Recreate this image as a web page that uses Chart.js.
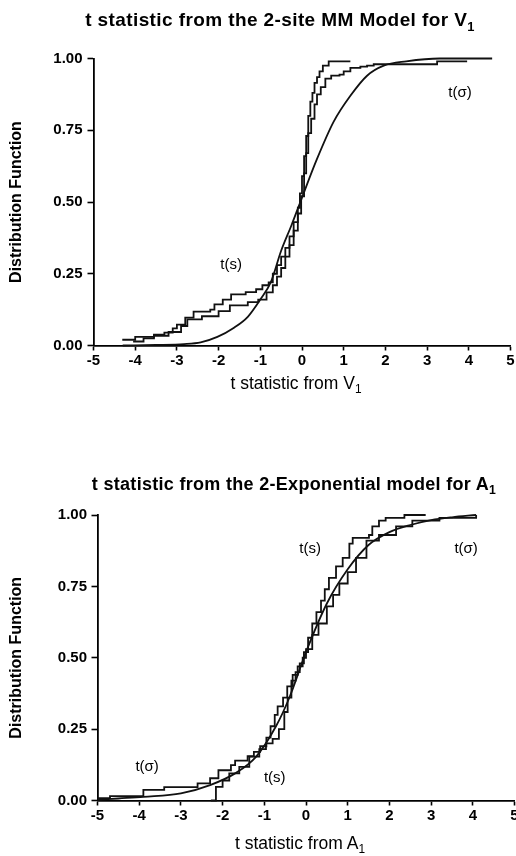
<!DOCTYPE html>
<html>
<head>
<meta charset="utf-8">
<script src="https://cdn.jsdelivr.net/npm/chart.js@4.4.1/dist/chart.umd.min.js"></script>
<style>
  html, body { margin: 0; padding: 0; background: #fff; overflow: hidden; }
  body { width: 516px; height: 856px; position: relative; font-family: "Liberation Sans", Arial, sans-serif; color: #000; }
  canvas { position: absolute; left: 0; }
  .title { position: absolute; white-space: nowrap; text-align: center; font-weight: bold; font-size: 19px; letter-spacing: 0.4px; line-height: 22px; }
  .xtitle { position: absolute; white-space: nowrap; text-align: center; font-size: 17.5px; line-height: 20px; }
  sub { font-size: 68%; vertical-align: -0.35em; line-height: 0; }
</style>
</head>
<body>
<canvas id="topChart" width="516" height="400" style="top:0"></canvas>
<canvas id="bottomChart" width="516" height="396" style="top:460px"></canvas>

<div class="title" style="left:60px;width:440px;top:9px">t statistic from the 2-site MM Model for V<sub>1</sub></div>
<div class="xtitle" style="left:186px;width:220px;top:373px">t statistic from V<sub>1</sub></div>
<div class="title" style="left:74px;width:440px;top:473px;font-size:18px;letter-spacing:0.3px">t statistic from the 2-Exponential model for A<sub>1</sub></div>
<div class="xtitle" style="left:190px;width:220px;top:833px">t statistic from A<sub>1</sub></div>

<script>
// tick values shared by both panels
const xTicks = [-5, -4, -3, -2, -1, 0, 1, 2, 3, 4, 5];
const yTicks = [0, 0.25, 0.5, 0.75, 1];

// panel 1: V1, points are [t, F]
const topSmooth = [[-4.3,0.0],[-3.5,0.002],[-2.83,0.005],[-2.43,0.011],[-2.03,0.03],[-1.63,0.062],[-1.3,0.10],
    [-1.0,0.16],[-0.75,0.22],[-0.5,0.33],[-0.25,0.42],[-0.04,0.5],[0.36,0.65],[0.76,0.78],[1.16,0.87],
    [1.56,0.94],[1.96,0.975],[2.5,0.99],[3.3,1.0],[4.56,1.0]];
const topTs = [[-4.31,0.02],[-4.0,0.03],[-3.55,0.038],[-3.3,0.045],[-3.1,0.06],[-3.0,0.073],[-2.8,0.097],
    [-2.6,0.118],[-2.2,0.125],[-2.1,0.143],[-1.9,0.16],[-1.7,0.178],[-1.35,0.186],[-1.1,0.196],[-0.95,0.21],
    [-0.8,0.22],[-0.7,0.25],[-0.6,0.28],[-0.5,0.31],[-0.4,0.34],[-0.3,0.38],[-0.2,0.43],[-0.1,0.48],
    [-0.05,0.53],[0.0,0.59],[0.05,0.66],[0.1,0.73],[0.15,0.8],[0.2,0.85],[0.25,0.88],[0.3,0.915],
    [0.36,0.935],[0.42,0.955],[0.5,0.975],[0.64,0.99],[1.16,0.99]];
const topTsigma = [[-4.05,0.014],[-3.8,0.025],[-3.55,0.034],[-3.2,0.047],[-2.9,0.068],[-2.75,0.091],
    [-2.4,0.102],[-2.0,0.12],[-1.73,0.14],[-1.3,0.151],[-1.05,0.16],[-0.85,0.185],[-0.7,0.21],[-0.6,0.24],
    [-0.5,0.27],[-0.4,0.31],[-0.3,0.35],[-0.2,0.4],[-0.1,0.46],[-0.02,0.52],[0.05,0.6],[0.1,0.67],
    [0.15,0.74],[0.22,0.79],[0.3,0.84],[0.36,0.875],[0.45,0.9],[0.56,0.93],[0.7,0.94],[0.9,0.944],
    [1.0,0.955],[1.16,0.967],[1.4,0.972],[1.56,0.975],[1.72,0.98],[3.24,0.99],[3.96,0.99]];
const topLabels = [
    { text: 't(s)', t: -1.70, f: 0.28 },
    { text: 't(\u03c3)', t: 3.79, f: 0.88 }
];

// panel 2: A1
const bottomSmooth = [[-5,0.002],[-4.5,0.007],[-3.9,0.013],[-3.0,0.025],[-2.3,0.054],[-1.7,0.095],
    [-1.2,0.153],[-0.72,0.26],[-0.4,0.36],[0,0.52],[0.5,0.69],[1.0,0.81],[1.5,0.895],[2.0,0.94],
    [2.5,0.965],[3.0,0.982],[3.5,0.992],[4.08,1.0]];
const bottomTs = [[-2.28,0.0],[-2.16,0.048],[-2.0,0.07],[-1.84,0.095],[-1.6,0.118],[-1.36,0.154],
    [-1.12,0.18],[-0.96,0.2],[-0.8,0.216],[-0.65,0.25],[-0.52,0.31],[-0.44,0.36],[-0.35,0.42],[-0.25,0.45],
    [-0.15,0.48],[-0.05,0.52],[0.05,0.57],[0.15,0.62],[0.25,0.66],[0.36,0.7],[0.45,0.74],[0.55,0.78],
    [0.72,0.82],[0.88,0.85],[1.04,0.9],[1.12,0.92],[1.51,0.93],[1.59,0.96],[1.75,0.98],[1.91,0.99],
    [2.36,1.0],[2.87,1.0]];
const bottomTsigma = [[-5,0.008],[-4.7,0.015],[-3.9,0.037],[-3.4,0.047],[-2.6,0.06],[-2.3,0.078],
    [-2.1,0.106],[-1.8,0.124],[-1.7,0.14],[-1.4,0.155],[-1.25,0.17],[-1.1,0.19],[-0.95,0.22],[-0.85,0.26],
    [-0.75,0.3],[-0.68,0.33],[-0.55,0.36],[-0.45,0.4],[-0.32,0.44],[-0.2,0.47],[-0.08,0.5],[0.0,0.53],
    [0.15,0.58],[0.3,0.62],[0.5,0.68],[0.65,0.72],[0.8,0.76],[1.0,0.8],[1.2,0.85],[1.45,0.91],
    [1.75,0.93],[2.16,0.96],[2.55,0.98],[3.2,0.99],[4.08,1.0]];
const bottomLabels = [
    { text: 't(s)', t: 0.10, f: 0.88 },
    { text: 't(\u03c3)', t: 3.84, f: 0.88 },
    { text: 't(\u03c3)', t: -3.81, f: 0.118 },
    { text: 't(s)', t: -0.75, f: 0.079 }
];

const fontFamily = '"Liberation Sans", Arial, sans-serif';

function toSet(points, stepped) {
    return {
        data: points.map(p => ({ x: p[0], y: p[1] })),
        stepped: stepped,
        cubicInterpolationMode: 'monotone',
        borderColor: '#111',
        borderWidth: 1.8,
        pointRadius: 0,
        fill: false,
        clip: false
    };
}

function makeChart(canvasId, sets, labels, box) {
    const ctx = document.getElementById(canvasId).getContext('2d');

    // writes the t(s) / t(sigma) tags at their data positions
    const labelPlugin = {
        id: 'curveLabels',
        afterDatasetsDraw(chart) {
            const c = chart.ctx;
            const { x, y } = chart.scales;
            c.save();
            c.font = '15px ' + fontFamily;
            c.fillStyle = '#000';
            c.textAlign = 'center';
            c.textBaseline = 'middle';
            labels.forEach(l => c.fillText(l.text, x.getPixelForValue(l.t), y.getPixelForValue(l.f)));
            c.restore();
        }
    };

    return new Chart(ctx, {
        type: 'line',
        data: { datasets: sets },
        options: {
            responsive: false,
            animation: false,
            events: [],
            layout: { padding: { top: box.top, right: box.right, left: 0, bottom: 0 } },
            plugins: { legend: { display: false }, tooltip: { enabled: false } },
            scales: {
                x: {
                    type: 'linear',
                    min: xTicks[0],
                    max: xTicks[xTicks.length - 1],
                    afterBuildTicks: s => { s.ticks = xTicks.map(v => ({ value: v })); },
                    ticks: { color: '#000', padding: 1, font: { family: fontFamily, size: 15, weight: 'bold' }, callback: v => String(v) },
                    grid: { drawOnChartArea: false, tickLength: 5, tickColor: '#000', tickWidth: 1.6 },
                    border: { color: '#000', width: 1.8 },
                    afterFit: s => { s.height = box.xHeight; s.paddingLeft = 0; s.paddingRight = 0; }
                },
                y: {
                    type: 'linear',
                    min: 0,
                    max: 1,
                    afterBuildTicks: s => { s.ticks = yTicks.map(v => ({ value: v })); },
                    ticks: { color: '#000', padding: box.tickPad, font: { family: fontFamily, size: 15, weight: 'bold' }, callback: v => v.toFixed(2) },
                    grid: { drawOnChartArea: false, tickLength: 6, tickColor: '#000', tickWidth: 1.6 },
                    border: { color: '#000', width: 1.8 },
                    title: {
                        display: true,
                        text: 'Distribution Function',
                        color: '#000',
                        padding: { top: 7.4, bottom: 0 },
                        font: { family: fontFamily, size: 16, weight: 'bold' }
                    },
                    afterFit: s => { s.width = box.left; s.paddingTop = 0; s.paddingBottom = 0; }
                }
            }
        },
        plugins: [labelPlugin]
    });
}

makeChart('topChart',
    [toSet(topSmooth, false), toSet(topTs, true), toSet(topTsigma, true)],
    topLabels,
    { top: 58.5, right: 5.5, left: 93.5, xHeight: 54.5, tickPad: 5 });

makeChart('bottomChart',
    [toSet(bottomSmooth, false), toSet(bottomTs, true), toSet(bottomTsigma, true)],
    bottomLabels,
    { top: 55, right: 1.5, left: 97.5, xHeight: 55.5, tickPad: 4.5 });
</script>
</body>
</html>
